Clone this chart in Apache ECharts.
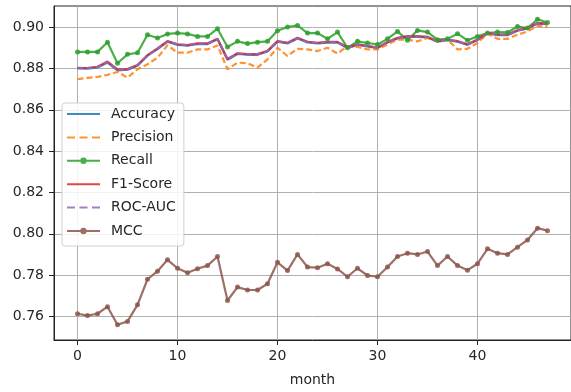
<!DOCTYPE html>
<html><head><meta charset="utf-8">
<script src="https://cdn.jsdelivr.net/npm/echarts@6/dist/echarts.min.js"></script>
<style>html,body{margin:0;padding:0;background:#fff}#c{width:571px;height:392px}</style>
</head><body><div id="c"></div>
<script>
var months = [];
for (var m = 0; m < 48; m++) months.push(m);
var xTicks = [0, 10, 20, 30, 40];
var yTicks = [0.76, 0.78, 0.80, 0.82, 0.84, 0.86, 0.88, 0.90];

var accuracy = [0.8800,0.8799,0.8805,0.8828,0.8790,0.8794,0.8813,0.8862,0.8893,0.8929,0.8914,0.8910,0.8918,0.8918,0.8941,0.8842,0.8870,0.8866,0.8866,0.8882,0.8929,0.8921,0.8945,0.8926,0.8921,0.8925,0.8925,0.8898,0.8914,0.8906,0.8898,0.8925,0.8945,0.8953,0.8953,0.8950,0.8929,0.8937,0.8929,0.8914,0.8937,0.8969,0.8961,0.8961,0.8982,0.8993,0.9017,0.9014];
var precision = [0.8748,0.8754,0.8759,0.8769,0.8783,0.8756,0.8796,0.8820,0.8852,0.8912,0.8876,0.8876,0.8892,0.8892,0.8911,0.8796,0.8828,0.8825,0.8804,0.8844,0.8900,0.8860,0.8895,0.8892,0.8884,0.8900,0.8872,0.8908,0.8904,0.8892,0.8892,0.8916,0.8939,0.8939,0.8931,0.8947,0.8931,0.8939,0.8892,0.8895,0.8923,0.8968,0.8943,0.8943,0.8963,0.8979,0.9006,0.9003];
var recall = [0.8880,0.8880,0.8880,0.8927,0.8825,0.8868,0.8876,0.8963,0.8947,0.8967,0.8971,0.8967,0.8955,0.8955,0.8992,0.8904,0.8931,0.8920,0.8927,0.8931,0.8982,0.9000,0.9008,0.8971,0.8971,0.8943,0.8976,0.8900,0.8931,0.8923,0.8916,0.8943,0.8979,0.8936,0.8984,0.8976,0.8939,0.8943,0.8968,0.8936,0.8955,0.8971,0.8976,0.8974,0.9003,0.8995,0.9038,0.9022];
var f1 = [0.8803,0.8802,0.8808,0.8833,0.8795,0.8797,0.8816,0.8864,0.8897,0.8932,0.8917,0.8913,0.8921,0.8921,0.8944,0.8846,0.8873,0.8869,0.8869,0.8885,0.8932,0.8924,0.8948,0.8929,0.8924,0.8928,0.8928,0.8902,0.8917,0.8909,0.8901,0.8928,0.8948,0.8956,0.8956,0.8953,0.8932,0.8940,0.8932,0.8917,0.8940,0.8972,0.8964,0.8964,0.8985,0.8996,0.9020,0.9017];
var rocAuc = [0.8802,0.8801,0.8807,0.8831,0.8793,0.8796,0.8815,0.8863,0.8895,0.8931,0.8916,0.8912,0.8920,0.8920,0.8943,0.8844,0.8872,0.8868,0.8868,0.8884,0.8931,0.8923,0.8947,0.8928,0.8923,0.8927,0.8927,0.8900,0.8916,0.8908,0.8900,0.8927,0.8947,0.8955,0.8955,0.8952,0.8931,0.8939,0.8931,0.8916,0.8939,0.8971,0.8963,0.8963,0.8984,0.8995,0.9019,0.9016];
var mcc = [0.7613,0.7604,0.7613,0.7647,0.7560,0.7576,0.7656,0.7780,0.7819,0.7874,0.7833,0.7811,0.7831,0.7846,0.7890,0.7677,0.7742,0.7728,0.7728,0.7758,0.7862,0.7822,0.7900,0.7839,0.7836,0.7855,0.7830,0.7792,0.7833,0.7798,0.7792,0.7839,0.7890,0.7906,0.7900,0.7914,0.7846,0.7890,0.7846,0.7824,0.7855,0.7927,0.7906,0.7900,0.7935,0.7970,0.8027,0.8015];

function pairs(arr){ return arr.map(function(v,i){ return [months[i], v]; }); }
var txt = '#262626';
var font = 'DejaVu Sans';
var BOX = 'M0,0 M33,14 ';
var ICON_SOLID = 'path://' + BOX + 'M0,6 L33,6 L33,8 L0,8 Z';
var ICON_DASH = 'path://' + BOX + 'M0,6 h8 v2 h-8 Z M12.5,6 h8 v2 h-8 Z M25,6 h8 v2 h-8 Z';
var ICON_MARK = 'path://' + BOX + 'M0,6 L33,6 L33,8 L0,8 Z M13.3,7 A3.2,3.2 0 1,1 19.7,7 A3.2,3.2 0 1,1 13.3,7 Z';

function mk(name, data, color, dashed, marker){
  return {
    name: name, type: 'line', data: pairs(data),
    symbol: marker ? 'circle' : 'none', symbolSize: 5, showSymbol: !!marker,
    lineStyle: {color: color, width: 2.2, type: dashed ? [6, 3] : 'solid', opacity: 0.85},
    itemStyle: {color: color, opacity: 0.85},
    emphasis: {disabled: true}, animation: false
  };
}
var chart = echarts.init(document.getElementById('c'));
chart.setOption({
  animation: false,
  backgroundColor: '#fff',
  grid: {left: 54, right: -3, top: 6, bottom: 48, show: true, borderColor: '#222', borderWidth: 1, containLabel: false},
  legend: {
    orient: 'vertical', left: 62, top: 103,
    itemWidth: 33, itemHeight: 14, itemGap: 9.4,
    padding: [4, 8, 8, 5],
    backgroundColor: 'rgba(255,255,255,0.85)', borderColor: '#d0d0d0', borderWidth: 1, borderRadius: 3,
    textStyle: {fontFamily: font, fontSize: 14, color: txt, padding: [0, 0, 0, 6]},
    data: [
      {name: 'Accuracy', icon: ICON_SOLID},
      {name: 'Precision', icon: ICON_DASH},
      {name: 'Recall', icon: ICON_MARK},
      {name: 'F1-Score', icon: ICON_SOLID},
      {name: 'ROC-AUC', icon: ICON_DASH},
      {name: 'MCC', icon: ICON_MARK}
    ]
  },
  xAxis: {
    type: 'value', min: -2.35, max: 49.35, splitNumber: 5,
    name: 'month', nameLocation: 'middle', nameGap: 33,
    nameTextStyle: {fontFamily: font, fontSize: 14, color: txt},
    axisLine: {show: true, onZero: false, lineStyle: {color: '#222'}},
    axisTick: {show: true, length: 5, customValues: xTicks, lineStyle: {color: '#222'}},
    axisLabel: {customValues: xTicks, fontFamily: font, fontSize: 14, color: txt, margin: 9},
    splitLine: {show: true, lineStyle: {color: '#b0b0b0', width: 1}}
  },
  yAxis: {
    type: 'value', min: 0.7486, max: 0.9102, splitNumber: 8,
    axisLine: {show: true, onZero: false, lineStyle: {color: '#222'}},
    axisTick: {show: true, length: 5, customValues: yTicks, lineStyle: {color: '#222'}},
    axisLabel: {customValues: yTicks, fontFamily: font, fontSize: 14, color: txt, margin: 10,
      formatter: function(v){ return v.toFixed(2); }},
    splitLine: {show: true, lineStyle: {color: '#b0b0b0', width: 1}}
  },
  series: [
    mk('Accuracy', accuracy, '#1f77b4', false, false),
    mk('Precision', precision, '#ff7f0e', true, false),
    mk('Recall', recall, '#2ca02c', false, true),
    mk('F1-Score', f1, '#d62728', false, false),
    mk('ROC-AUC', rocAuc, '#9467bd', true, false),
    mk('MCC', mcc, '#8c564b', false, true)
  ]
});
</script></body></html>
